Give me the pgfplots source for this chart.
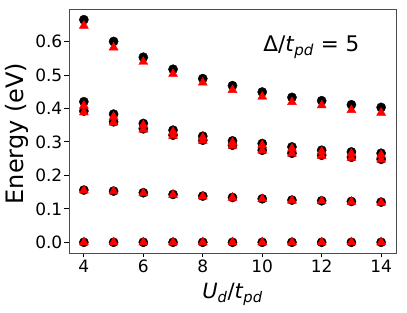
\documentclass[border=0pt]{standalone}
\usepackage{fontspec}
\setmainfont{DejaVu Sans}
\usepackage{pgfplots}
\pgfplotsset{compat=1.18}
\begin{document}
\begin{tikzpicture}
\begin{axis}[
  scale only axis,
  width=327pt, height=244pt,
  xmin=3.5, xmax=14.5,
  ymin=-0.032, ymax=0.697,
  xtick={4,6,8,10,12,14},
  ytick={0,0.1,0.2,0.3,0.4,0.5,0.6},
  yticklabel style={/pgf/number format/fixed,/pgf/number format/fixed zerofill,/pgf/number format/precision=1},
  /pgf/number format/assume math mode=true,
  tick align=outside,
  major tick length=4.5pt,
  tick style={black, line width=0.8pt},
  xtick pos=bottom, ytick pos=left,
  axis line style={black!70, line width=0.8pt},
  ticklabel style={font=\fontsize{17}{19}\selectfont},
  xticklabel style={inner sep=2pt},
  yticklabel style={inner sep=2pt},
  every axis x label/.style={at={(axis description cs:0.5,-0.185)}, anchor=base},
  every axis y label/.style={at={(axis description cs:-0.159,0.49)}, rotate=90, anchor=center},
  xlabel={\fontsize{21}{24}\selectfont\textit{U}\textsubscript{\textit{d}}/\textit{t}\textsubscript{\textit{pd}}},
  ylabel={\fontsize{24}{28}\selectfont Energy (eV)},
  clip=false,
]
\coordinate (bl) at (rel axis cs:0,0);
\coordinate (tr) at (rel axis cs:1,1);
% black circles
\addplot[only marks, mark=*, mark size=4.6pt, black] coordinates {
(4,0.665)(5,0.600)(6,0.553)(7,0.517)(8,0.489)(9,0.468)(10,0.449)(11,0.433)(12,0.423)(13,0.411)(14,0.403)};
\addplot[only marks, mark=*, mark size=4.6pt, black] coordinates {
(4,0.420)(5,0.383)(6,0.355)(7,0.335)(8,0.317)(9,0.303)(10,0.295)(11,0.285)(12,0.275)(13,0.270)(14,0.266)};
\addplot[only marks, mark=*, mark size=4.6pt, black] coordinates {
(4,0.392)(5,0.360)(6,0.339)(7,0.320)(8,0.305)(9,0.290)(10,0.275)(11,0.266)(12,0.260)(13,0.254)(14,0.248)};
\addplot[only marks, mark=*, mark size=4.6pt, black] coordinates {
(4,0.156)(5,0.153)(6,0.148)(7,0.143)(8,0.138)(9,0.134)(10,0.130)(11,0.126)(12,0.124)(13,0.122)(14,0.120)};
\addplot[only marks, mark=*, mark size=4.6pt, black] coordinates {
(4,0)(5,0)(6,0)(7,0)(8,0)(9,0)(10,0)(11,0)(12,0)(13,0)(14,0)};
% red triangles
\addplot[only marks, mark=triangle*, mark size=5.2pt, red, mark options={fill=red, draw=red}] coordinates {
(4,0.647)(5,0.582)(6,0.539)(7,0.503)(8,0.477)(9,0.455)(10,0.435)(11,0.419)(12,0.409)(13,0.395)(14,0.387)};
\addplot[only marks, mark=triangle*, mark size=5.2pt, red, mark options={fill=red, draw=red}] coordinates {
(4,0.408)(5,0.375)(6,0.350)(7,0.330)(8,0.313)(9,0.298)(10,0.290)(11,0.280)(12,0.271)(13,0.265)(14,0.261)};
\addplot[only marks, mark=triangle*, mark size=5.2pt, red, mark options={fill=red, draw=red}] coordinates {
(4,0.388)(5,0.358)(6,0.337)(7,0.318)(8,0.303)(9,0.288)(10,0.274)(11,0.265)(12,0.258)(13,0.252)(14,0.247)};
\addplot[only marks, mark=triangle*, mark size=5.2pt, red, mark options={fill=red, draw=red}] coordinates {
(4,0.155)(5,0.152)(6,0.147)(7,0.142)(8,0.137)(9,0.133)(10,0.129)(11,0.125)(12,0.123)(13,0.121)(14,0.119)};
\addplot[only marks, mark=triangle*, mark size=5.2pt, red, mark options={fill=red, draw=red}] coordinates {
(4,0)(5,0)(6,0)(7,0)(8,0)(9,0)(10,0)(11,0)(12,0)(13,0)(14,0)};
\node[anchor=base west, inner sep=0pt, font=\fontsize{21.5}{24}\selectfont] at (axis cs:10.03,0.570) {Δ/\textit{t}\textsubscript{\textit{pd}} = 5};
\end{axis}
\pgfresetboundingbox
\path[use as bounding box] ([shift={(-69pt,-60pt)}]bl) rectangle ([shift={(11pt,9pt)}]tr);
\end{tikzpicture}
\end{document}
